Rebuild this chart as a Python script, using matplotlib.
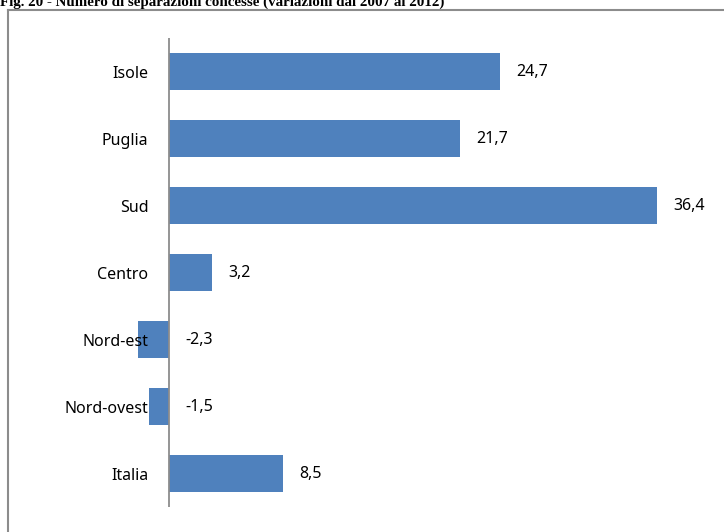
import matplotlib
matplotlib.use("Agg")
import matplotlib.pyplot as plt
from matplotlib.lines import Line2D

categories = ["Isole", "Puglia", "Sud", "Centro", "Nord-est", "Nord-ovest", "Italia"]
values = [24.7, 21.7, 36.4, 3.2, -2.3, -1.5, 8.5]
value_labels = ["24,7", "21,7", "36,4", "3,2", "-2,3", "-1,5", "8,5"]
title = "Fig. 20 - Numero di separazioni concesse (variazioni dal 2007 al 2012)"

W, H = 724, 532
fig = plt.figure(figsize=(W / 100, H / 100), dpi=100)

# titolo tagliato in alto come nel riferimento
fig.text(0.0, 1 - 6 / H, title, fontsize=10.8, fontweight="bold",
         family="Liberation Serif", va="baseline", ha="left")

# cornice del grafico (solo lato sinistro e superiore visibili)
fx = 7.5 / W
fy = 1 - 9.5 / H
fig.add_artist(Line2D([fx, fx], [-0.01, fy], color="#8c8c8c", lw=1.5))
fig.add_artist(Line2D([fx, 1.01], [fy, fy], color="#8c8c8c", lw=1.5))

ax = fig.add_axes([129 / W, 25 / H, 576 / W, 469 / H])
y = list(range(len(categories)))
ax.barh(y, values, height=0.567, color="#4F81BD")
ax.set_xlim(-3, 40)
ax.set_ylim(6.5, -0.5)

ax.axvline(0, color="#8c8c8c", lw=1.3)
for s in ax.spines.values():
    s.set_visible(False)
ax.set_xticks([])
ax.set_yticks(y)
ax.set_yticklabels(categories, family="Noto Sans", fontsize=11.5)
ax.tick_params(axis="y", length=0, pad=-14)

for i, (v, lab) in enumerate(zip(values, value_labels)):
    ax.annotate(lab, xy=(max(v, 0), i), xytext=(12, 0), textcoords="offset points",
                va="center", ha="left", family="Noto Sans", fontsize=11.5)

fig.savefig("out.png", dpi=100)
